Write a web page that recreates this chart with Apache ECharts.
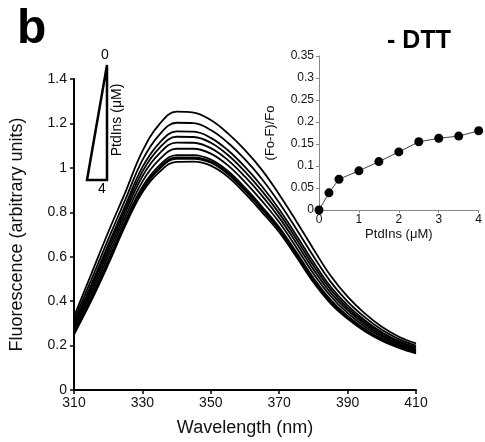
<!DOCTYPE html>
<html>
<head>
<meta charset="utf-8">
<script src="https://cdn.jsdelivr.net/npm/echarts@6/dist/echarts.min.js"></script>
<style>
    html, body { margin: 0; padding: 0; background: #fff; }
    #chart { width: 485px; height: 442px; }
</style>
</head>
<body>
<div id="chart"></div>
<script>
    // emission spectra, one curve per PtdIns concentration (0 -> 4 uM)
    var wavelengths = [310, 315, 320, 325, 330, 335, 340, 345, 350, 355, 360, 365, 370, 375, 380, 385, 390, 395, 400, 405, 410];
    var c0   = [.33, .52, .71, .89, 1.075, 1.197, 1.253, 1.249, 1.215, 1.155, 1.08, .99, .88, .76, .635, .515, .42, .345, .285, .24, .21];
    var c025 = [.313, .494, .678, .857, 1.035, 1.150, 1.203, 1.201, 1.170, 1.113, 1.038, .949, .843, .725, .602, .488, .398, .328, .271, .229, .200];
    var c05  = [.299, .473, .653, .831, 1.003, 1.113, 1.164, 1.163, 1.135, 1.079, 1.004, .916, .814, .697, .576, .466, .381, .314, .260, .220, .192];
    var c1   = [.290, .460, .638, .815, .983, 1.090, 1.140, 1.139, 1.113, 1.058, .983, .895, .795, .680, .560, .453, .370, .305, .254, .215, .188];
    var c15  = [.281, .446, .621, .798, .962, 1.065, 1.114, 1.113, 1.089, 1.035, .960, .874, .776, .662, .543, .438, .359, .296, .246, .209, .182];
    var c2   = [.271, .431, .603, .779, .938, 1.038, 1.086, 1.086, 1.064, 1.011, .936, .850, .755, .642, .524, .423, .346, .286, .239, .203, .177];
    var c25  = [.261, .416, .584, .760, .915, 1.011, 1.057, 1.057, 1.037, .986, .911, .825, .733, .621, .505, .407, .333, .276, .230, .197, .171];
    var c3   = [.257, .411, .578, .753, .906, 1.001, 1.047, 1.047, 1.028, .977, .902, .817, .725, .614, .498, .401, .329, .272, .228, .194, .169];
    var c35  = [.255, .407, .574, .749, .901, .995, 1.041, 1.041, 1.023, .972, .897, .812, .721, .610, .494, .398, .326, .270, .226, .193, .168];
    var c4   = [.25, .40, .565, .74, .89, .982, 1.027, 1.028, 1.01, .96, .885, .80, .71, .60, .485, .39, .32, .265, .222, .19, .165];
    var curves = [c0, c025, c05, c1, c15, c2, c25, c3, c35, c4];

    // inset: quenching vs PtdIns
    var ptdins = [0, 0.25, 0.5, 1, 1.5, 2, 2.5, 3, 3.5, 4];
    var quench = [0, 0.039, 0.070, 0.089, 0.110, 0.132, 0.155, 0.163, 0.168, 0.180];

    var xTicks = [310, 330, 350, 370, 390, 410];

    var font = '"Liberation Sans", Arial, Helvetica, sans-serif';
    var chart = echarts.init(document.getElementById('chart'));

    var series = [];
    curves.forEach(function (c, i) {
        series.push({
            name: 'c' + i,
            type: 'line',
            xAxisIndex: 0, yAxisIndex: 0,
            smooth: 0.4,
            showSymbol: false,
            lineStyle: {color: '#000', width: 1.8},
            data: wavelengths.map(function (w, j) { return [w, c[j]]; }),
            silent: true
        });
    });
    series.push({
        name: 'inset',
        type: 'line',
        xAxisIndex: 1, yAxisIndex: 1,
        symbol: 'circle',
        symbolSize: 9,
        itemStyle: {color: '#000'},
        lineStyle: {color: '#444', width: 1},
        data: ptdins.map(function (p, j) { return [p, quench[j]]; }),
        z: 5
    });

    var option = {
        animation: false,
        textStyle: {fontFamily: font},
        grid: [
            {left: 73, right: 69, top: 79, bottom: 49},
            {left: 319, right: 5, top: 56, bottom: 232}
        ],
        xAxis: [
            {
                gridIndex: 0, type: 'value', min: 310, max: 410,
                name: 'Wavelength (nm)', nameLocation: 'middle', nameGap: 29,
                nameTextStyle: {fontSize: 18, color: '#111', fontFamily: font},
                axisLine: {lineStyle: {color: '#000', width: 2}},
                axisTick: {show: true, length: 4, customValues: xTicks, lineStyle: {color: '#000', width: 1.5}},
                axisLabel: {customValues: xTicks, fontSize: 14, color: '#111', margin: 6, fontFamily: font},
                splitLine: {show: false}
            },
            {
                gridIndex: 1, type: 'value', min: 0, max: 4, interval: 1,
                name: 'PtdIns (\u03bcM)', nameLocation: 'middle', nameGap: 18,
                nameTextStyle: {fontSize: 13, color: '#111', fontFamily: font},
                axisLine: {lineStyle: {color: '#888', width: 1}},
                axisTick: {length: 3, lineStyle: {color: '#888'}},
                axisLabel: {fontSize: 12, color: '#111', margin: 4, fontFamily: font},
                splitLine: {show: false}
            }
        ],
        yAxis: [
            {
                gridIndex: 0, type: 'value', min: 0, max: 1.4, interval: 0.2,
                name: 'Fluorescence (arbitrary units)', nameLocation: 'middle', nameGap: 48,
                nameTextStyle: {fontSize: 18, color: '#111', fontFamily: font},
                axisLine: {show: true, lineStyle: {color: '#000', width: 2}},
                axisTick: {show: true, length: 4, lineStyle: {color: '#000', width: 1.5}},
                axisLabel: {fontSize: 14, color: '#111', margin: 7, fontFamily: font},
                splitLine: {show: false}
            },
            {
                gridIndex: 1, type: 'value', min: 0, max: 0.35, interval: 0.05,
                name: '(Fo-F)/Fo', nameLocation: 'middle', nameGap: 42,
                nameTextStyle: {fontSize: 13, color: '#111', fontFamily: font},
                axisLine: {show: true, lineStyle: {color: '#888', width: 1}},
                axisTick: {show: true, length: 3, lineStyle: {color: '#888'}},
                axisLabel: {fontSize: 12, color: '#111', margin: 5, fontFamily: font},
                splitLine: {show: false}
            }
        ],
        graphic: [
            {type: 'text', left: 17, top: 6, style: {text: 'b', font: 'bold 48px ' + font, fill: '#000'}},
            {type: 'text', x: 419, y: 41, style: {text: '- DTT', font: 'bold 25px ' + font, fill: '#000', align: 'center', verticalAlign: 'middle'}},
            {type: 'polygon', shape: {points: [[107, 65], [87, 180], [107, 180]]}, style: {fill: 'none', stroke: '#000', lineWidth: 2.5}},
            {type: 'text', x: 105, y: 55, style: {text: '0', font: '14px ' + font, fill: '#000', align: 'center', verticalAlign: 'middle'}},
            {type: 'text', x: 102, y: 189, style: {text: '4', font: '14px ' + font, fill: '#000', align: 'center', verticalAlign: 'middle'}},
            {type: 'text', x: 117, y: 120, rotation: Math.PI / 2, style: {text: 'PtdIns (\u03bcM)', font: '14px ' + font, fill: '#000', align: 'center', verticalAlign: 'middle'}}
        ],
        series: series
    };
    chart.setOption(option);
</script>
</body>
</html>
